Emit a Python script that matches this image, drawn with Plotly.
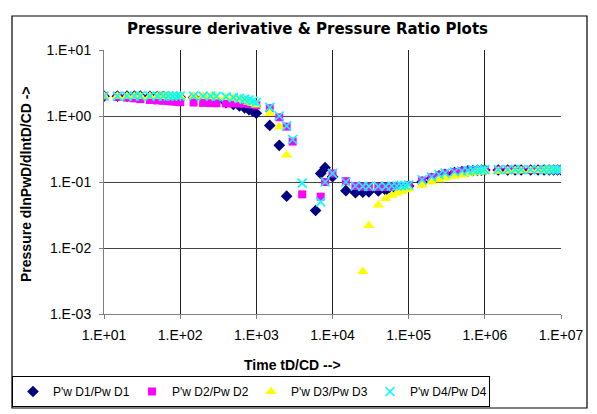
import plotly.graph_objects as go

TIME = [10, 15, 20, 25, 30, 40, 50, 60, 70, 80, 90,
        100, 150, 200, 250, 300, 400, 500, 600, 700, 800, 900,
        1000, 1500, 2000, 2500, 3000, 4000, 5000, 6000, 7000, 8000, 9000,
        1e4, 1.5e4, 2e4, 2.5e4, 3e4, 4e4, 5e4, 6e4, 7e4, 8e4, 9e4,
        1e5, 1.5e5, 2e5, 2.5e5, 3e5, 4e5, 5e5, 6e5, 7e5, 8e5, 9e5,
        1e6, 1.5e6, 2e6, 2.5e6, 3e6, 4e6, 5e6, 6e6, 7e6, 8e6, 9e6,
        1e7]

D1 = [2.0, 2.0, 2.0, 2.0, 2.0, 1.98, 1.97, 1.96, 1.95, 1.94, 1.93,
      1.92, 1.9, 1.86, 1.8, 1.72, 1.6, 1.5, 1.42, 1.33, 1.25, 1.18,
      1.1, 0.72, 0.36, 0.061, None, None, None, 0.037, 0.135, 0.165, None,
      0.12, 0.074, 0.069, 0.07, 0.071, 0.073, 0.075, 0.077, 0.079, 0.081, 0.083,
      0.087, 0.1, 0.114, 0.124, 0.131, 0.139, 0.144, 0.147, 0.149, 0.15, 0.151,
      0.152, 0.152, 0.152, 0.152, 0.152, 0.152, 0.152, 0.152, 0.152, 0.152, 0.152,
      0.152]

D2 = [2.0, 1.95, 1.9, 1.85, 1.8, 1.75, 1.72, 1.7, 1.68, 1.66, 1.64,
      1.62, 1.6, 1.58, 1.57, 1.56, 1.55, 1.55, 1.55, 1.55, 1.52, 1.5,
      1.45, 1.31, 0.955, 0.69, 0.41, 0.065, None, None, 0.06, 0.10, None,
      0.135, 0.103, 0.087, 0.085, 0.084, 0.084, 0.084, 0.085, 0.085, 0.086, 0.087,
      0.089, 0.105, 0.118, 0.127, 0.134, 0.142, 0.146, 0.148, 0.15, 0.151, 0.152,
      0.153, 0.153, 0.153, 0.153, 0.153, 0.153, 0.153, 0.153, 0.153, 0.153, 0.153,
      0.153]

D3 = [2.0, 2.0, 2.0, 2.0, 2.0, 2.0, 2.0, 2.0, 2.0, 2.0, 2.0,
      2.0, 2.0, 1.98, 1.96, 1.94, 1.9, 1.85, 1.78, 1.7, 1.62, 1.55,
      1.47, 1.1, 0.69, 0.257, None, None, None, None, None, None, None,
      None, None, None, 0.0044, 0.022, 0.045, 0.056, 0.063, 0.068, 0.072, 0.076,
      0.08, 0.09, 0.1, 0.108, 0.115, 0.122, 0.128, 0.133, 0.137, 0.14, 0.142,
      0.145, 0.146, 0.147, 0.148, 0.148, 0.149, 0.149, 0.15, 0.15, 0.15, 0.15,
      0.15]

D4 = [2.0, 2.0, 2.0, 2.0, 2.0, 2.0, 2.0, 2.0, 2.0, 2.0, 2.0,
      2.0, 2.0, 2.0, 2.0, 1.98, 1.95, 1.9, 1.85, 1.8, 1.75, 1.68,
      1.6, 1.35, 1.0, 0.71, 0.44, 0.096, None, None, 0.05, 0.1, None,
      0.135, 0.10, 0.087, 0.086, 0.086, 0.086, 0.086, 0.087, 0.087, 0.088, 0.089,
      0.09, 0.108, 0.12, 0.13, 0.136, 0.143, 0.147, 0.149, 0.151, 0.152, 0.153,
      0.154, 0.154, 0.154, 0.154, 0.154, 0.154, 0.154, 0.154, 0.154, 0.154, 0.154,
      0.154]

NAMES = ["P'w D1/Pw D1", "P'w D2/Pw D2", "P'w D3/Pw D3", "P'w D4/Pw D4"]
X_TICKS = [1e1, 1e2, 1e3, 1e4, 1e5, 1e6, 1e7]
X_LABELS = ["1.E+01", "1.E+02", "1.E+03", "1.E+04", "1.E+05", "1.E+06", "1.E+07"]
Y_TICKS = [1e-3, 1e-2, 1e-1, 1e0, 1e1]
Y_LABELS = ["1.E-03", "1.E-02", "1.E-01", "1.E+00", "1.E+01"]

FONT = "Liberation Sans, Arial, sans-serif"

fig = go.Figure()
fig.add_trace(go.Scatter(x=TIME, y=D1, name=NAMES[0], mode="markers",
                         marker=dict(symbol="diamond", color="#000080", size=9)))
fig.add_trace(go.Scatter(x=TIME, y=D2, name=NAMES[1], mode="markers",
                         marker=dict(symbol="square", color="#FF00FF", size=8)))
fig.add_trace(go.Scatter(x=TIME, y=D3, name=NAMES[2], mode="markers",
                         marker=dict(symbol="triangle-up", color="#FFFF00", size=10)))
fig.add_trace(go.Scatter(x=TIME, y=D4, name=NAMES[3], mode="markers",
                         marker=dict(symbol="x-thin", size=9,
                                     line=dict(color="#00FFFF", width=1.6))))

L, R, T, B = 104, 36, 50, 100
W, H = 597, 414
pw, ph = W - L - R, H - T - B

def px(x):
    return (x - L) / pw

def py(y):
    return (H - B - y) / ph

fig.update_layout(
    width=W, height=H,
    margin=dict(l=L, r=R, t=T, b=B, autoexpand=False),
    paper_bgcolor="white", plot_bgcolor="white",
    font=dict(family=FONT, size=14, color="black"),
    showlegend=True,
    legend=dict(orientation="h", xref="paper", yref="paper",
                x=px(12), y=py(376), xanchor="left", yanchor="top",
                bordercolor="black", borderwidth=1, bgcolor="white",
                font=dict(size=12), itemwidth=30, tracegroupgap=0,
                entrywidth=74, entrywidthmode="pixels"),
    xaxis=dict(type="log", range=[1, 7], tickvals=X_TICKS, ticktext=X_LABELS,
               showgrid=True, gridcolor="#222222", gridwidth=1,
               showline=True, linecolor="#808080", linewidth=1,
               ticks="outside", ticklen=4, tickcolor="#808080",
               ticklabelstandoff=4,
               zeroline=False, tickfont=dict(size=14)),
    yaxis=dict(type="log", range=[-3, 1], tickvals=Y_TICKS, ticktext=Y_LABELS,
               showgrid=True, gridcolor="#444444", gridwidth=1,
               showline=True, linecolor="#808080", linewidth=1,
               ticks="outside", ticklen=4, tickcolor="#808080",
               ticklabelstandoff=5,
               zeroline=False, tickfont=dict(size=14)),
    shapes=[dict(type="rect", xref="paper", yref="paper",
                 x0=px(12), x1=px(587), y0=py(408), y1=py(16),
                 line=dict(color="black", width=1.2), layer="below")],
    annotations=[
        dict(text="<b>Pressure derivative &amp; Pressure Ratio Plots</b>", xref="paper", yref="paper",
             x=px(307), y=py(29), xanchor="center", yanchor="middle", showarrow=False,
             font=dict(size=15, family="DejaVu Sans, sans-serif")),
        dict(text="<b>Time tD/CD --></b>", xref="paper", yref="paper",
             x=px(292), y=py(365), xanchor="center", yanchor="middle",
             showarrow=False, font=dict(size=14)),
        dict(text="<b>Pressure dlnPwD/dlntD/CD -></b>", xref="paper", yref="paper",
             x=px(26), y=py(184), xanchor="center", yanchor="middle",
             showarrow=False, textangle=-90, font=dict(size=14)),
    ],
)

fig.write_html("out.html")
